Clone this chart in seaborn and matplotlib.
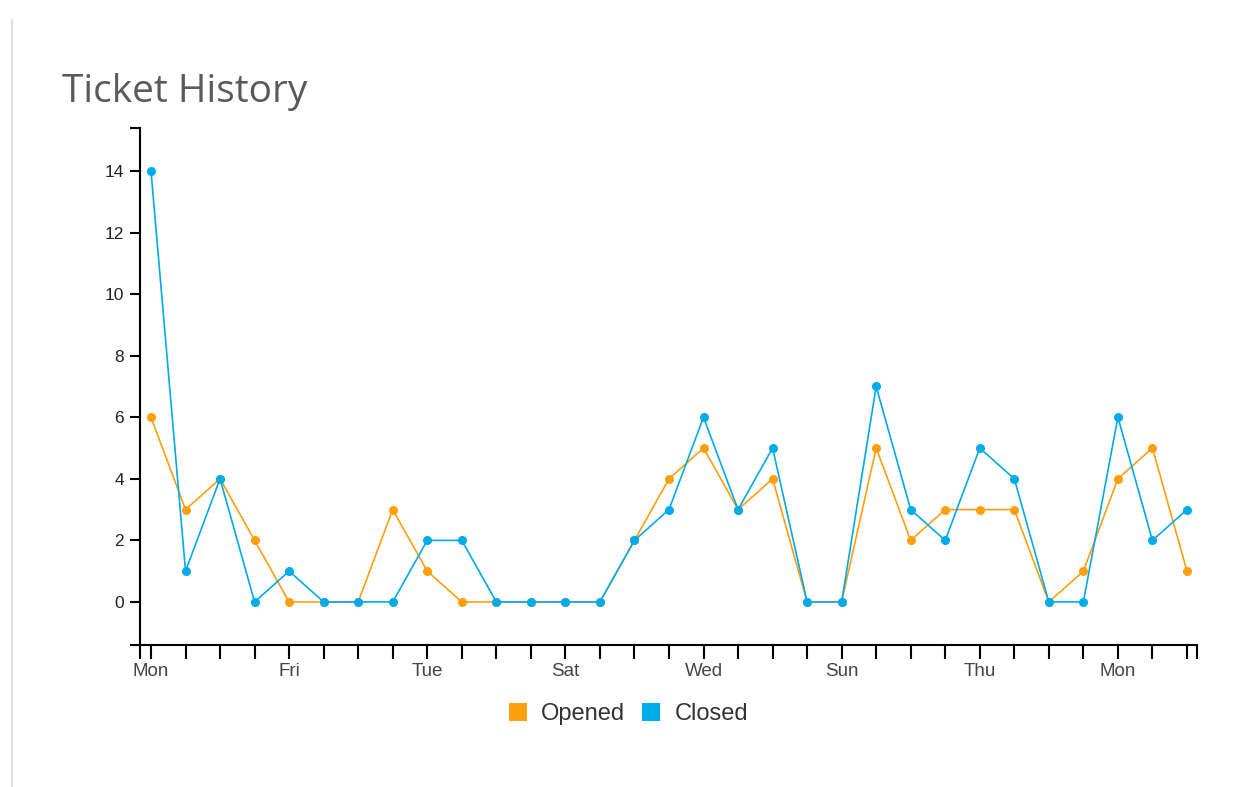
import pandas as pd
import matplotlib.pyplot as plt
import seaborn as sns
from matplotlib.lines import Line2D

# Daily ticket counts, 31 days starting on a Monday
opened = [6, 3, 4, 2, 0, 0, 0, 3, 1, 0, 0, 0, 0, 0, 2, 4, 5, 3, 4, 0, 0, 5, 2, 3, 3, 3, 0, 1, 4, 5, 1]
closed = [14, 1, 4, 0, 1, 0, 0, 0, 2, 2, 0, 0, 0, 0, 2, 3, 6, 3, 5, 0, 0, 7, 3, 2, 5, 4, 0, 0, 6, 2, 3]
day_labels = ['Mon', 'Fri', 'Tue', 'Sat', 'Wed', 'Sun', 'Thu', 'Mon']
y_ticks = [0, 2, 4, 6, 8, 10, 12, 14]

days = list(range(len(opened)))
df = pd.DataFrame({
    'day': days + days,
    'count': opened + closed,
    'series': ['Opened'] * len(opened) + ['Closed'] * len(closed),
})

colors = {'Opened': '#FF9F0F', 'Closed': '#00ABEA'}

sns.set_style('ticks')
plt.rcParams['font.family'] = ['Liberation Sans', 'DejaVu Sans']

fig = plt.figure(figsize=(12.44, 7.87), dpi=100)
ax = fig.add_axes([0.1125, 0.1804, 0.8497, 0.657])

sns.lineplot(data=df, x='day', y='count', hue='series', palette=colors,
             marker='o', markersize=6.5, markeredgewidth=0, linewidth=1.2,
             legend=False, ax=ax)

xmin, xmax = -0.32, 30.29
ymin, ymax = -1.4, 15.4
ax.set_xlim(xmin, xmax)
ax.set_ylim(ymin, ymax)

# d3-style axes: a tick every day, a label every fourth day, plus outer end ticks
xt = [xmin] + days + [xmax]
xl = [''] + [day_labels[d // 4] if d % 4 == 0 else '' for d in days] + ['']
ax.set_xticks(xt)
ax.set_xticklabels(xl)
yt = [ymin] + y_ticks + [ymax]
ax.set_yticks(yt)
ax.set_yticklabels([''] + [str(v) for v in y_ticks] + [''])

ax.tick_params(axis='x', length=10, width=1.5, color='black', labelsize=13.5, labelcolor='#444444', pad=3)
ax.tick_params(axis='y', length=7.5, width=1.5, color='black', labelsize=12.5, labelcolor='#222222', pad=4)
for s in ['left', 'bottom']:
    ax.spines[s].set_linewidth(1.5)
    ax.spines[s].set_color('black')
sns.despine(ax=ax)
ax.set_xlabel('')
ax.set_ylabel('')

fig.text(0.05, 0.871, 'Ticket History', fontsize=28, color='#5a5a5a',
         family=['Open Sans', 'DejaVu Sans'], va='baseline')

# Panel border on the left
fig.add_artist(Line2D([0.0097, 0.0097], [0.0, 0.975], color='#dddddd', linewidth=1.5))

handles = [Line2D([0], [0], marker='s', linestyle='', markersize=13,
                  markerfacecolor=colors[k], markeredgewidth=0) for k in ['Opened', 'Closed']]
fig.legend(handles, ['Opened', 'Closed'], loc='center', bbox_to_anchor=(0.4995, 0.093),
           ncol=2, frameon=False, fontsize=17, handletextpad=0.0, columnspacing=0.1,
           labelcolor='#333333')

fig.savefig('out.png', dpi=100, facecolor='white')
